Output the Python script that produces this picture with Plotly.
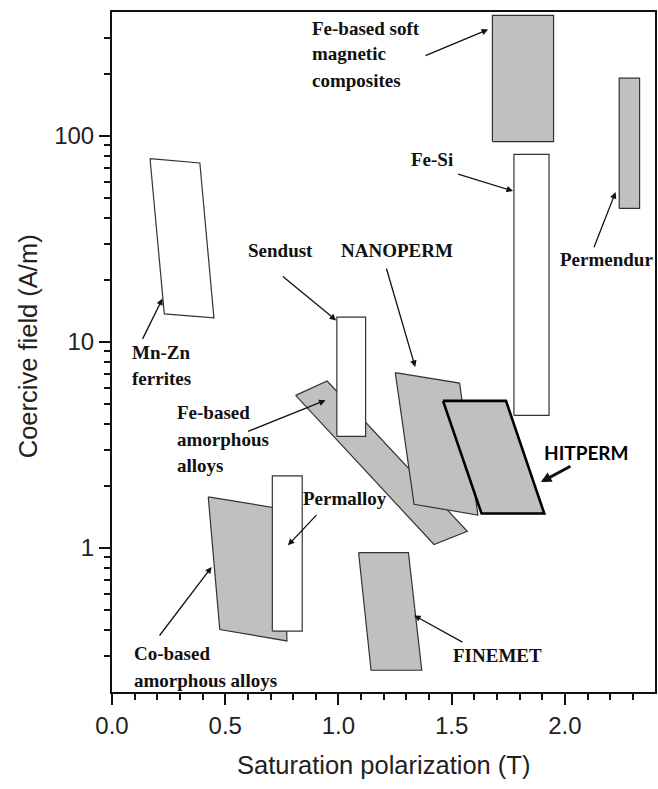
import numpy as np
import plotly.graph_objects as go

# ---------------- data (Saturation polarization T, Coercive field A/m) -------------
smc_x = [1.68, 1.95, 1.95, 1.68]
smc_y = [94, 94, 385, 385]
permendur_x = [2.24, 2.33, 2.33, 2.24]
permendur_y = [44.5, 44.5, 191, 191]
fesi_x = [1.775, 1.93, 1.93, 1.775]
fesi_y = [4.4, 4.4, 81.5, 81.5]
sendust_x = [0.993, 1.12, 1.12, 0.993]
sendust_y = [3.48, 3.48, 13.2, 13.2]
mnzn_x = [0.168, 0.388, 0.450, 0.231]
mnzn_y = [77.6, 74.0, 13.1, 13.7]
cobased_x = [0.425, 0.762, 0.7725, 0.476]
cobased_y = [1.77, 1.54, 0.354, 0.402]
permalloy_x = [0.708, 0.840, 0.840, 0.708]
permalloy_y = [0.395, 0.395, 2.24, 2.24]
feamorph_x = [0.811, 0.950, 1.569, 1.422]
feamorph_y = [5.51, 6.47, 1.205, 1.04]
nanoperm_x = [1.251, 1.535, 1.616, 1.334]
nanoperm_y = [7.10, 6.32, 1.445, 1.63]
hitperm_x = [1.462, 1.740, 1.909, 1.632]
hitperm_y = [5.18, 5.18, 1.47, 1.47]
finemet_x = [1.089, 1.309, 1.368, 1.144]
finemet_y = [0.95, 0.95, 0.255, 0.255]

x_major = [0.0, 0.5, 1.0, 1.5, 2.0]
x_major_labels = ["0.0", "0.5", "1.0", "1.5", "2.0"]
y_major = [1, 10, 100]
y_major_labels = ["1", "10", "100"]

GRAY = "#c0c0c0"
EDGE = "#333333"

fig = go.Figure()

def poly(xs, ys, fill, lw=1.2, color=EDGE):
    fig.add_trace(go.Scatter(
        x=list(xs) + [xs[0]], y=list(ys) + [ys[0]], mode="lines",
        fill="toself", fillcolor=fill, line=dict(color=color, width=lw),
        hoverinfo="skip", showlegend=False))

poly(feamorph_x, feamorph_y, GRAY)
poly(sendust_x, sendust_y, "white")
poly(nanoperm_x, nanoperm_y, GRAY)
poly(hitperm_x, hitperm_y, GRAY, lw=2.6, color="black")
poly(cobased_x, cobased_y, GRAY)
poly(permalloy_x, permalloy_y, "white")
poly(finemet_x, finemet_y, GRAY)
poly(mnzn_x, mnzn_y, "white")
poly(fesi_x, fesi_y, "white")
poly(smc_x, smc_y, GRAY)
poly(permendur_x, permendur_y, GRAY)

# ---------------- annotations (x in T, y in A/m) -------------
serif = dict(family="Liberation Serif", size=19, color="#111111", weight="bold")
labels = [
    # text, x, y, anchor
    ("Fe-based soft", 0.873, 10**2.523, "left"),
    ("magnetic", 0.873, 10**2.401, "left"),
    ("composites", 0.873, 10**2.270, "left"),
    ("Fe-Si", 1.411, 10**1.887, "center"),
    ("Permendur", 2.183, 10**1.400, "center"),
    ("NANOPERM", 1.260, 10**1.445, "center"),
    ("Sendust", 0.743, 10**1.445, "center"),
    ("Mn-Zn", 0.0805, 10**0.951, "left"),
    ("ferrites", 0.0805, 10**0.822, "left"),
    ("Fe-based", 0.2785, 10**0.660, "left"),
    ("amorphous", 0.2785, 10**0.526, "left"),
    ("alloys", 0.2785, 10**0.401, "left"),
    ("Permalloy", 1.031, 10**0.240, "center"),
    ("Co-based", 0.088, 10**-0.510, "left"),
    ("amorphous alloys", 0.088, 10**-0.642, "left"),
    ("FINEMET", 1.704, 10**-0.521, "center"),
]
for t, x, y, anc in labels:
    fig.add_annotation(x=x, y=np.log10(y), xref="x", yref="y", text=t,
                       showarrow=False, xanchor=anc, yanchor="middle", font=serif)

fig.add_annotation(x=2.094, y=0.466, xref="x", yref="y", text="HITPERM",
                   showarrow=False, xanchor="center", yanchor="middle",
                   font=dict(family="Lato", size=19, color="black", weight="bold"))

arrows = [
    # tail x, tail y, tip x, tip y (y in log10 A/m), width
    (1.378, 2.387, 1.661, 2.517, 1.3),
    (1.522, 1.817, 1.771, 1.733, 1.3),
    (2.126, 1.453, 2.224, 1.728, 1.3),
    (1.210, 1.364, 1.339, 0.879, 1.3),
    (0.748, 1.324, 0.990, 1.105, 1.3),
    (0.132, 1.008, 0.223, 1.211, 1.3),
    (0.594, 0.563, 0.943, 0.717, 1.3),
    (0.909, 0.167, 0.777, 0.013, 1.3),
    (0.205, -0.432, 0.440, -0.092, 1.3),
    (1.554, -0.461, 1.334, -0.327, 1.3),
    (2.031, 0.401, 1.894, 0.320, 3.0),
]
for ax_, ay_, x, y, w in arrows:
    fig.add_annotation(x=x, y=y, ax=ax_, ay=ay_, xref="x", yref="y",
                       axref="x", ayref="y", text="", showarrow=True,
                       arrowhead=2, arrowsize=1.0 if w < 2 else 0.7,
                       arrowwidth=w, arrowcolor="#111111", standoff=0)

# axis titles
title_font = dict(family="Liberation Sans", size=25.5, color="#222222")
fig.add_annotation(text="Saturation polarization (T)", xref="paper", yref="paper",
                   x=0.5, y=-0.107, showarrow=False, font=title_font,
                   xanchor="center", yanchor="middle")
fig.add_annotation(text="Coercive field (A/m)", xref="paper", yref="paper",
                   x=-0.154, y=0.509, showarrow=False, font=title_font,
                   textangle=-90, xanchor="center", yanchor="middle")

tick_font = dict(family="Liberation Sans", size=24, color="#222222")
fig.update_xaxes(range=[0, 2.398], showline=True, linecolor="#111111", linewidth=2,
                 mirror=True, ticks="outside", ticklen=11, tickwidth=2,
                 tickcolor="#111111", tickmode="array", tickvals=x_major,
                 ticktext=x_major_labels, tickfont=tick_font, showgrid=False,
                 zeroline=False,
                 minor=dict(ticks="outside", ticklen=6, tickwidth=1.5,
                            tickcolor="#111111", dtick=0.1, tick0=0, showgrid=False))
y_minor = [m * d for d in [0.1, 1, 10, 100] for m in range(2, 10) if 0.2 < m * d < 400]
fig.update_yaxes(type="log", range=[np.log10(0.2), np.log10(400)], showline=True,
                 linecolor="#111111", linewidth=2, mirror=True, ticks="outside",
                 ticklen=11, tickwidth=2, tickcolor="#111111", tickmode="array",
                 tickvals=y_major, ticktext=y_major_labels, tickfont=tick_font,
                 showgrid=False, zeroline=False,
                 minor=dict(ticks="outside", ticklen=6, tickwidth=1.5,
                            tickcolor="#111111", tickmode="array",
                            tickvals=y_minor, showgrid=False))

fig.update_layout(width=658, height=789, margin=dict(l=112, r=1, t=12, b=97),
                  plot_bgcolor="white", paper_bgcolor="white", showlegend=False)
fig.write_html("out.html")
